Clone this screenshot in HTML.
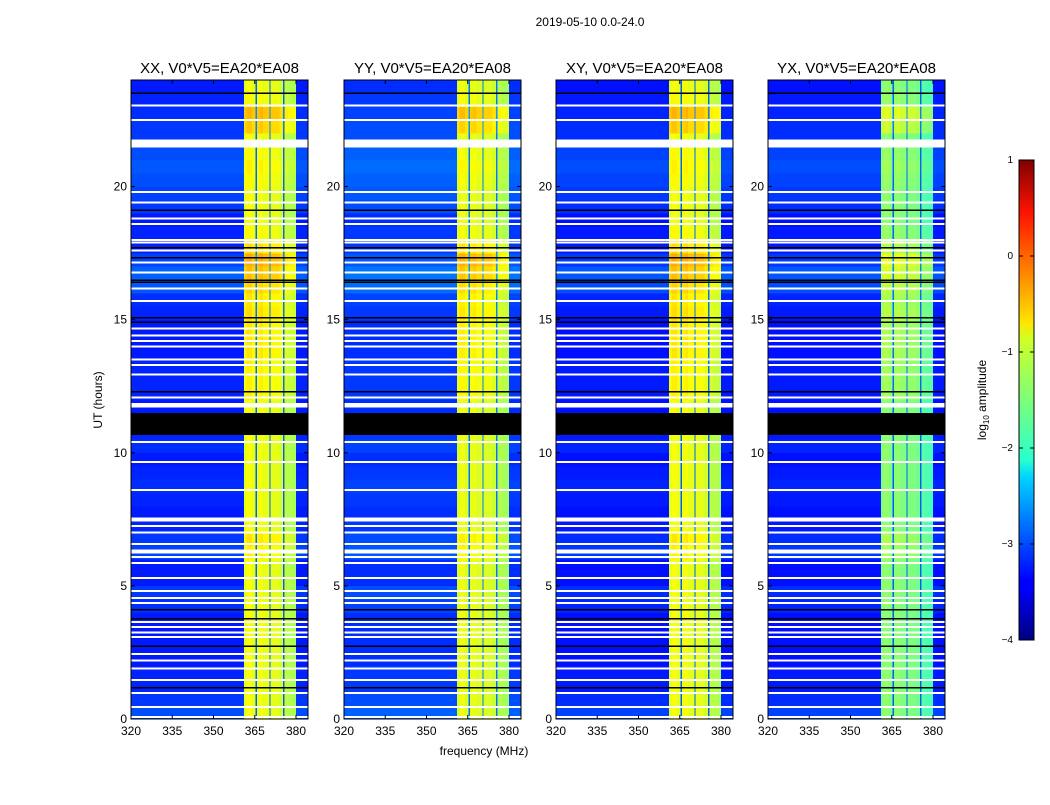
<!DOCTYPE html>
<html><head><meta charset="utf-8"><style>
body{margin:0;background:#fff;width:1050px;height:800px;overflow:hidden;font-family:"Liberation Sans",sans-serif}
svg text{font-family:"Liberation Sans",sans-serif}
</style></head><body>
<svg id="fig" width="1050" height="800">
<text x="590" y="26" font-size="12" text-anchor="middle">2019-05-10 0.0-24.0</text>
<text x="484" y="755" font-size="12" text-anchor="middle">frequency (MHz)</text>
<text transform="translate(102,400) rotate(-90)" font-size="12" text-anchor="middle">UT (hours)</text>
<defs><linearGradient id="jet" x1="0" y1="1" x2="0" y2="0">
<stop offset="0" stop-color="#000080"/><stop offset="0.11" stop-color="#0000ff"/><stop offset="0.125" stop-color="#0000ff"/>
<stop offset="0.34" stop-color="#00d4ff"/><stop offset="0.375" stop-color="#29ffce"/><stop offset="0.5" stop-color="#7dff7a"/>
<stop offset="0.625" stop-color="#ceff29"/><stop offset="0.66" stop-color="#ffe600"/><stop offset="0.89" stop-color="#ff1300"/><stop offset="1" stop-color="#800000"/>
</linearGradient></defs>
<g id="panels"></g>
<g>
<rect x="1019" y="160" width="15" height="480" fill="url(#jet)" stroke="#000" stroke-width="1"/>
<g id="cbticks"></g>
<text transform="translate(986,400) rotate(-90)" font-size="12" text-anchor="middle">log<tspan font-size="8" dy="3">10</tspan><tspan dy="-3"> amplitude</tspan></text>
</g>
</svg>
<script>
const titles=["XX, V0*V5=EA20*EA08","YY, V0*V5=EA20*EA08","XY, V0*V5=EA20*EA08","YX, V0*V5=EA20*EA08"];
const lowLevel=[-3.25,-3.15,-3.3,-3.3];
const bandLevel=[-1.0,-1.05,-1.0,-1.5];
const gapLevel=[-2.9,-2.8,-2.9,-2.9];
// channel type per 1 MHz bin from 320 to 384: 0 low, 1 band, 2 band with narrow gap
const channelType=[0,0,0,0,0,0,0,0,0,0, 0,0,0,0,0,0,0,0,0,0, 0,0,0,0,0,0,0,0,0,0, 0,0,0,0,0,0,0,0,0,0, 0,1,1,1,1,2,1,1,1,1, 2,1,1,1,1,2,1,1,1,1, 0,0,0,0,0];
// per-channel band tweak (last sub-band greener)
const bandTilt=[0,0,0,0,0,0,0,0,0,0, 0,0,0,0,0,0,0,0,0,0, 0,0,0,0,0,0,0,0,0,0, 0,0,0,0,0,0,0,0,0,0, 0,0,0.1,0.1,0,0,0.05,0.1,0,0, 0,0,0,0,-0.1,0,-0.2,-0.25,-0.25,-0.3, 0,0,0,0,0];
// half-hour offsets 0..23.5
const timeBand=[0,0,0,0,0,0,0,0,0,0,0,0,0.1,0.15,0,0,0,0,0,0,0,0,0,0,0.1,0.1,0.1,0.15,0.15,0.15,0.2,0.15,0.25,0.35,0.45,0.2,0.05,0,0,0,0.05,0.1,0.05,0,0.3,0.4,0.05,0];
const timeLow=[0.25,0.15,0.05,0.05,0,0,0,0,0.1,0.15,0,0,0.2,0.15,0.05,0,0.05,0.1,0.05,0,0.1,0.05,0,0,0.05,0.05,0.05,0,0,0,0.05,0.1,0.3,0.35,0.2,0.05,0.05,0,0.15,0.2,0.25,0.3,0.25,0.15,0.15,0.1,0.05,0];
const whiteFlags=[0.08,0.45,0.98,1.47,1.9,2.2,2.44,3.08,3.25,3.45,3.65,4.36,4.55,4.81,5.3,5.86,6.09,6.58,7.0,7.25,7.48,8.6,9.66,10.4,11.78,12.07,12.93,13.3,13.5,14.0,14.2,14.4,14.66,15.7,16.17,16.77,17.14,17.6,17.9,18.0,18.6,18.8,19.4,19.8,22.5,23.04];
const blackFlags=[1.17,2.74,3.76,4.1,12.3,14.9,15.07,16.4,16.47,17.33,17.7,19.1,23.5];
const wideWhite=[[21.47,21.77],[6.22,6.36],[7.42,7.56],[11.7,11.86]];
const wideBlack=[[10.66,11.5]];
const xTicks=[320,335,350,365,380];
const yTicks=[0,5,10,15,20];
const cbTicks=[1,0,-1,-2,-3,-4];

const NS="http://www.w3.org/2000/svg";
const X0=[131,344,556,768],PW=177,YT=80,YB=719;
const ppm=2.75, pph=(YB-YT)/24;
function xs(p,f){return X0[p]+(f-320)*ppm;}
function ys(h){return YB-h*pph;}
function jet(v){let t=(v+4)/5;t=Math.max(0,Math.min(1,t));
 const r=Math.max(0,Math.min(1,1.5-Math.abs(4*t-3))),g=Math.max(0,Math.min(1,1.5-Math.abs(4*t-2))),b=Math.max(0,Math.min(1,1.5-Math.abs(4*t-1)));
 return `rgb(${r*255|0},${g*255|0},${b*255|0})`;}
function mk(tag,a,parent){const e=document.createElementNS(NS,tag);for(const k in a)e.setAttribute(k,a[k]);parent.appendChild(e);return e;}
const root=document.getElementById('panels');
for(let p=0;p<4;p++){
 const g=mk('g',{},root);
 
 
 const hm=mk('g',{'shape-rendering':'crispEdges'},g);
 
 
 for(let r=0;r<timeLow.length;r++){
  for(let c=0;c<channelType.length;c++){
   const ty=channelType[c];
   let v=ty==0?lowLevel[p]+timeLow[r]:bandLevel[p]+bandTilt[c]+timeBand[r];
   const x=xs(p,320+c),w=Math.min(ppm,X0[p]+PW-x);if(w<=0)continue;
   const cell=mk('rect',{x:x,y:ys((r+1)*0.5),width:w+0.3,height:pph*0.5+0.3,fill:jet(v)},hm);
   
   
   if(ty==2){
    const gp=mk('rect',{x:x+0.9,y:ys((r+1)*0.5),width:1.3,height:pph*0.5+0.3,fill:jet(gapLevel[p]+timeBand[r]*0.5)},hm);
    
    
   }
  }
 }
 for(const h of whiteFlags){const e=mk('rect',{x:X0[p],y:ys(h)-1,width:PW,height:2,fill:'#fff'},hm);}
 for(const h of blackFlags){const e=mk('rect',{x:X0[p],y:ys(h)-0.75,width:PW,height:1.5,fill:'#000'},hm);}
 for(const [a,b] of wideWhite){const e=mk('rect',{x:X0[p],y:ys(b),width:PW,height:ys(a)-ys(b),fill:'#fff'},hm);}
 for(const [a,b] of wideBlack){const e=mk('rect',{x:X0[p],y:ys(b),width:PW,height:ys(a)-ys(b),fill:'#000'},hm);}
 const fr=mk('rect',{x:X0[p],y:YT,width:PW,height:YB-YT,fill:'none',stroke:'#000','stroke-width':1},g);
 
 const t=mk('text',{x:X0[p]+PW/2,y:73,'font-size':15,'text-anchor':'middle'},g);t.textContent=titles[p];
 
 for(const f of xTicks){const x=xs(p,f);mk('line',{x1:x,x2:x,y1:YB,y2:YB-4,stroke:'#000'},g);mk('line',{x1:x,x2:x,y1:YT,y2:YT+4,stroke:'#000'},g);
  const l=mk('text',{x:x,y:YB+16,'font-size':12,'text-anchor':'middle'},g);l.textContent=f;}
 for(const h of yTicks){const y=ys(h);mk('line',{x1:X0[p],x2:X0[p]+4,y1:y,y2:y,stroke:'#000'},g);mk('line',{x1:X0[p]+PW,x2:X0[p]+PW-4,y1:y,y2:y,stroke:'#000'},g);
  const l=mk('text',{x:X0[p]-4,y:y+4,'font-size':12,'text-anchor':'end'},g);l.textContent=h;}
}
const cb=document.getElementById('cbticks');
for(const v of cbTicks){const y=160+(1-v)*96;mk('line',{x1:1019,x2:1023,y1:y,y2:y,stroke:'#000'},cb);mk('line',{x1:1030,x2:1034,y1:y,y2:y,stroke:'#000'},cb);
 const l=mk('text',{x:1013,y:y+3,'font-size':10,'text-anchor':'end'},cb);l.textContent=v<0?'\u2212'+(-v):v;
 }
</script>
</body></html>
